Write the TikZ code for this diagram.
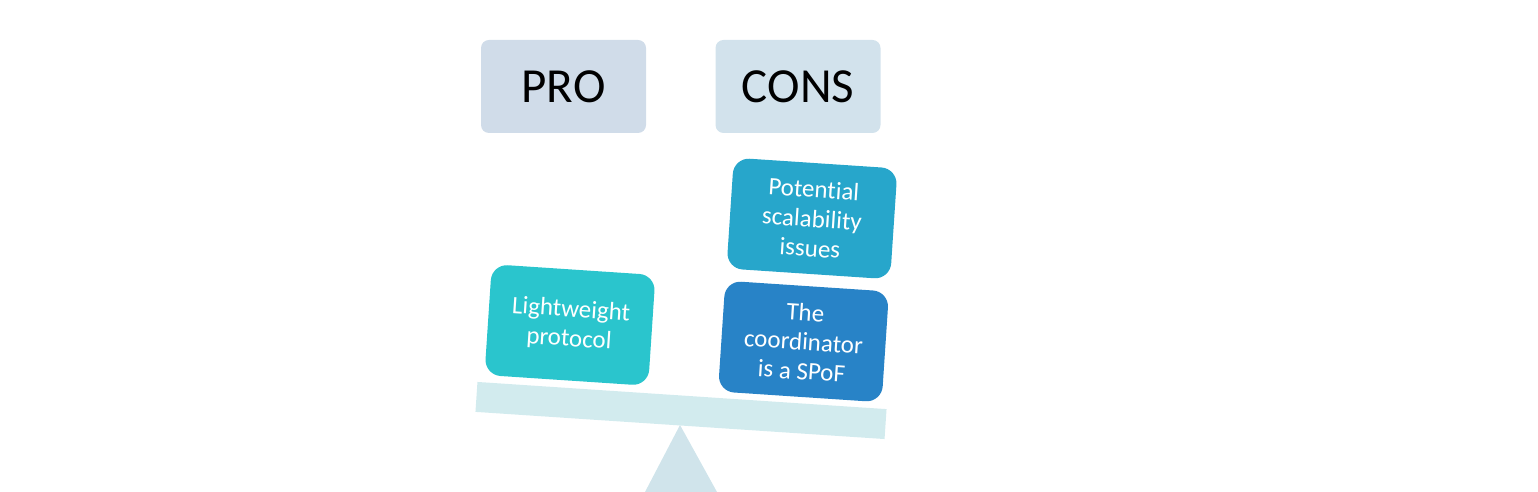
\documentclass[tikz,border=0pt]{standalone}
\usepackage{fontspec}
\setmainfont{Carlito}[Ligatures={NoCommon,NoRare}]
\definecolor{proC}{HTML}{D0DCE9}
\definecolor{consC}{HTML}{D2E2EC}
\definecolor{beamC}{HTML}{D2EBEE}
\definecolor{triC}{HTML}{D0E4EB}
\definecolor{lightC}{HTML}{2AC5CD}
\definecolor{potC}{HTML}{27A6CB}
\definecolor{coordC}{HTML}{2883C7}
\begin{document}
\begin{tikzpicture}[x=1pt,y=1pt,
  head/.style={rounded corners=8pt, minimum width=165pt, minimum height=93pt, inner sep=0pt, font=\fontsize{49}{53}\selectfont, text=black},
  item/.style={rounded corners=16pt, minimum width=164pt, minimum height=111pt, rotate=-3.8, text=white, align=center, font=\fontsize{25}{29.5}\selectfont, inner sep=0pt}]
\useasboundingbox (0,0) rectangle (1538,492);
% fulcrum
\coordinate (apex) at (680,67);
\fill[triC] (apex) -- (645,0) -- (717,0) -- cycle;
% beam
\node[fill=beamC, minimum width=410pt, minimum height=30pt, inner sep=0pt, rotate=-3.8] (beam) at (681,81.5) {};
% headers
\node[head, fill=proC] (pro) at (563.5,405.5) {PRO};
\node[head, fill=consC] (cons) at (798,405.5) {CONS};
% items
\node[item, fill=lightC] (light) at (570,167) {Lightweight\\protocol};
\node[item, fill=potC] (pot) at (812,273.5) {Potential\\scalability\\issues};
\node[item, fill=coordC] (coord) at (803.5,150.5) {The\\coordinator\\is a SPoF};
\end{tikzpicture}
\end{document}
